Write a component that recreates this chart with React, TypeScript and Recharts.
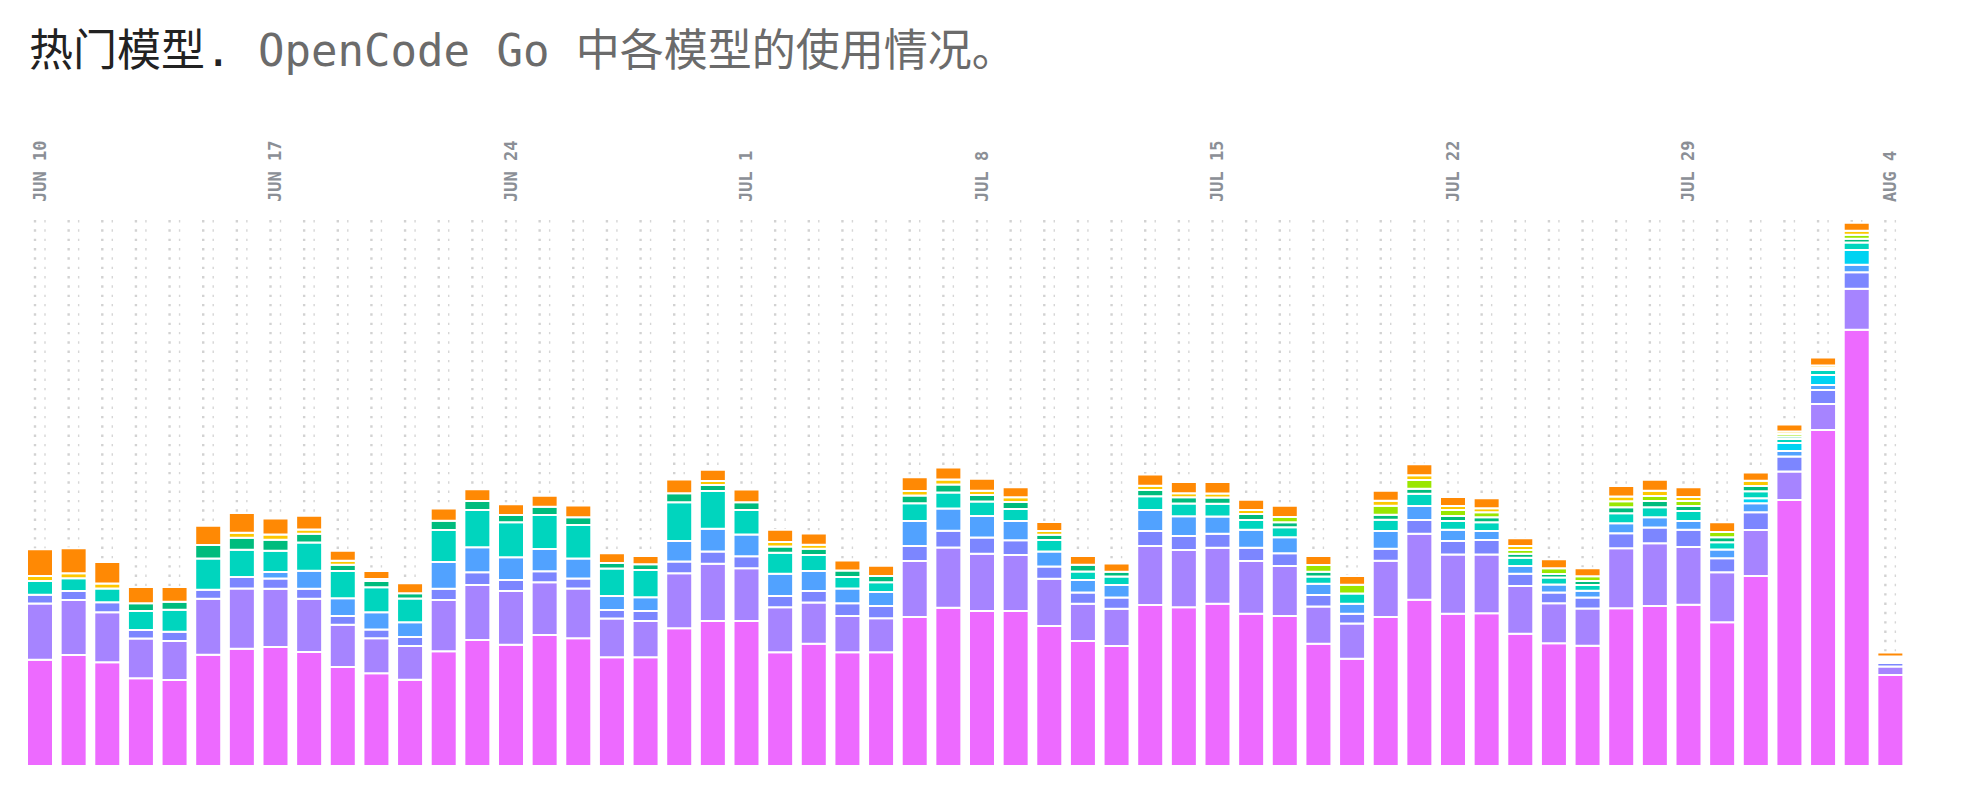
import { BarChart, Bar, XAxis, YAxis } from "recharts";

// one entry per day, JUN 10 .. AUG 4
const days = [
  "JUN 10", "JUN 11", "JUN 12", "JUN 13", "JUN 14", "JUN 15", "JUN 16",
  "JUN 17", "JUN 18", "JUN 19", "JUN 20", "JUN 21", "JUN 22", "JUN 23",
  "JUN 24", "JUN 25", "JUN 26", "JUN 27", "JUN 28", "JUN 29", "JUN 30",
  "JUL 1", "JUL 2", "JUL 3", "JUL 4", "JUL 5", "JUL 6", "JUL 7",
  "JUL 8", "JUL 9", "JUL 10", "JUL 11", "JUL 12", "JUL 13", "JUL 14",
  "JUL 15", "JUL 16", "JUL 17", "JUL 18", "JUL 19", "JUL 20", "JUL 21",
  "JUL 22", "JUL 23", "JUL 24", "JUL 25", "JUL 26", "JUL 27", "JUL 28",
  "JUL 29", "JUL 30", "JUL 31", "AUG 1", "AUG 2", "AUG 3", "AUG 4",
];

const tickDays = ["JUN 10", "JUN 17", "JUN 24", "JUL 1", "JUL 8", "JUL 15", "JUL 22", "JUL 29", "AUG 4"];

// usage per model, bottom of the stack first
const model1 = [
  106.3, 111, 103.7, 87.7, 86, 111.3, 117.3, 119, 114, 99, 92.7, 86.3, 114.7, 126,
  121.3, 131, 127.7, 108.7, 108.7, 137.7, 145, 145, 113.7, 122.3, 113.7, 113.7, 149, 158.3,
  155, 155, 140, 125, 120, 161, 158.7, 162.3, 152.3, 150, 122.3, 107.3, 149, 166.3,
  152.3, 152.7, 132.3, 122.7, 120.3, 157.7, 160, 161.3, 143.7, 190, 266, 336, 436.3, 91,
];
const model2 = [
  56.3, 55, 50, 39.7, 39, 56, 60.3, 58.3, 53.3, 42.3, 35, 33.7, 51.3, 55,
  53.7, 52.7, 49.7, 38.7, 36.3, 55, 57.3, 52.7, 45, 41.3, 36.3, 34, 56, 60.3,
  57.3, 56, 47.3, 37.3, 37.3, 59, 57.3, 56, 52.7, 50, 37.3, 35.3, 56.3, 66,
  59.3, 58.7, 47.7, 40, 37.3, 60, 62.7, 57.7, 50, 46, 28.5, 26, 41, 8.5,
];
const model3 = [
  8.7, 9, 10, 8.7, 9.3, 9, 11.3, 10.3, 10, 8.7, 8.7, 9, 11.3, 12.7,
  11, 11, 10, 8.7, 10, 11.7, 12.3, 12, 11.3, 11.3, 12.7, 12.3, 15, 16.7,
  16.3, 14.7, 12.3, 11.3, 11.3, 15, 14, 14, 13.3, 12.7, 11.3, 9.7, 12, 13.7,
  13.3, 14.7, 12.3, 10.7, 11, 15, 15.7, 17.3, 14, 17.7, 15, 14, 16.4, 3.5,
];
const model4 = [
  0, 0, 0, 0, 0, 0, 0, 6.3, 18, 17.7, 17.3, 14.7, 26.7, 25,
  22.7, 22.3, 20, 14, 13.7, 20.7, 22.7, 21.7, 22.3, 20, 14.7, 14, 25, 22.3,
  21.3, 19.3, 15, 12.3, 12.3, 21, 19.7, 17.3, 18, 16, 11.3, 10, 17.7, 14,
  11.3, 9, 7.7, 8, 6.7, 10, 10.3, 8.7, 8.7, 9, 5.5, 5, 7.5, 1.5,
];
const model5 = [
  0, 0, 0, 0, 0, 0, 0, 0, 0, 0, 0, 0, 0, 0,
  0, 0, 0, 0, 0, 0, 0, 0, 0, 0, 0, 0, 0, 0,
  0, 0, 0, 0, 0, 0, 0, 0, 0, 0, 0, 0, 0, 0,
  0, 0, 0, 0, 0, 0, 0, 0, 0, 5, 8, 10, 14.9, 1,
];
const model6 = [
  13.7, 12.7, 13.7, 19, 22, 31.3, 27.3, 21.3, 28.3, 27.3, 25, 23.7, 32, 37.3,
  35, 34, 33.7, 27.3, 27.3, 38.7, 37.7, 24.7, 21, 16, 11.7, 9.7, 17.7, 16,
  14.7, 12, 11.3, 8.7, 8.7, 13.7, 12.7, 12.7, 9.7, 10, 7.3, 10.3, 11.3, 12.3,
  8.7, 8.7, 8.3, 7, 5.7, 10, 10, 10, 7.3, 7, 4, 5, 7.4, 1.5,
];
const model7 = [
  0, 0, 0, 7.7, 8, 13.3, 12, 11, 8.7, 6.3, 6.3, 5.3, 9.3, 9,
  7.3, 8.3, 7.7, 5.7, 5.7, 9, 6, 7.7, 6.3, 6.3, 6.3, 6.3, 7.7, 8,
  6.3, 7, 5.3, 6.7, 4.7, 6.3, 6.3, 6.3, 6, 5, 4.7, 0, 5, 5,
  5, 5, 4, 3.7, 4, 6, 6.3, 5, 5, 5.3, 2.5, 2, 3.8, 1,
];
const model8 = [
  0, 0, 0, 0, 0, 0, 0, 0, 0, 0, 0, 0, 0, 0,
  0, 0, 0, 0, 0, 0, 0, 0, 0, 0, 0, 0, 0, 0,
  0, 0, 0, 0, 0, 0, 0, 0, 0, 5.3, 6.7, 8.7, 9, 8.7,
  6, 5, 3.7, 5.7, 4.7, 6, 5, 5, 5.3, 0, 2.5, 0, 4, 0.5,
];
const model9 = [
  5, 5, 5, 0, 0, 0, 5, 5.3, 4.3, 4, 2, 0, 0, 0,
  0, 0, 0, 0, 0, 0, 4, 0, 4.3, 4, 0, 0, 4.7, 5,
  4.3, 4.7, 3.7, 0, 0, 4.3, 4, 4, 4, 0, 0, 0, 5, 4.7,
  4, 4, 4, 0, 0, 4.7, 5.3, 4, 0, 5.3, 2.5, 2.5, 4, 1,
];
const model10 = [
  26.7, 25, 21.7, 16.3, 14.7, 19.3, 19.7, 16, 13.7, 10, 8, 10, 12.3, 11.7,
  10.7, 11, 11.7, 9.7, 8.3, 13.7, 11.3, 12.7, 12.3, 11.3, 10, 10.3, 13.7, 12,
  12, 10, 9, 8.7, 8.3, 11.3, 11.3, 11.3, 10.3, 11.3, 9, 8.7, 10, 11,
  9, 10, 7.7, 9, 8, 10.7, 11, 9.7, 9.7, 8.3, 7, 8, 8, 4,
];

const series = [
  { key: "model1", color: "#ed6aff", values: model1 },
  { key: "model2", color: "#a684ff", values: model2 },
  { key: "model3", color: "#7c86ff", values: model3 },
  { key: "model4", color: "#51a2ff", values: model4 },
  { key: "model5", color: "#00d3f2", values: model5 },
  { key: "model6", color: "#00d5be", values: model6 },
  { key: "model7", color: "#00bc7d", values: model7 },
  { key: "model8", color: "#9ae600", values: model8 },
  { key: "model9", color: "#fdc700", values: model9 },
  { key: "model10", color: "#ff8904", values: model10 },
];

const data = days.map((day, i) => {
  const row: Record<string, string | number> = { day };
  series.forEach((s) => {
    row[s.key] = s.values[i];
  });
  return row;
});

const MONO = "'DejaVu Sans Mono', 'Noto Sans CJK SC', monospace";

function DayTick(props: any) {
  const { x, y, payload } = props;
  if (!tickDays.includes(payload.value)) return <g />;
  return (
    <text
      x={x}
      y={y}
      dy="0.36em"
      transform={`rotate(-90 ${x} ${y})`}
      textAnchor="start"
      fill="#8b8f96"
      fontSize={17}
      fontWeight={700}
      fontFamily={MONO}
    >
      {payload.value}
    </text>
  );
}

// dotted columns behind every bar
function DotColumns(props: any) {
  const { x, y, width, height } = props;
  const cx = x + width / 2;
  return (
    <g>
      <line x1={cx - 5} x2={cx - 5} y1={y} y2={y + height} stroke="#d2d2d2" strokeWidth={2.4} strokeDasharray="2.4 6.93" />
      <line x1={cx + 5} x2={cx + 5} y1={y} y2={y + height} stroke="#d6d6d6" strokeWidth={1.4} strokeDasharray="2.4 6.93" />
    </g>
  );
}

export default function App() {
  return (
    <div style={{ position: "relative", width: 1963, height: 783 }}>
      <svg width={1100} height={90} style={{ position: "absolute", left: 0, top: 0 }}>
        <text x={21} y={58} fontSize={44} fontFamily={MONO} style={{ whiteSpace: "pre" }}>
          <tspan fill="#222222">热门模型.</tspan>
          <tspan fill="#6b6b6b">{" OpenCode Go 中各模型的使用情况。"}</tspan>
        </text>
      </svg>
      <div style={{ position: "absolute", left: 0, top: 0 }}>
        <BarChart
          width={1950}
          height={775}
          data={data}
          margin={{ top: 152, right: 51, bottom: 17, left: 15 }}
          barSize={26}
        >
          <XAxis
            dataKey="day"
            orientation="top"
            axisLine={false}
            tickLine={false}
            tickSize={0}
            tickMargin={18}
            interval={0}
            height={60}
            tick={DayTick}
          />
          <YAxis hide domain={[0, 546]} />
          {series.map((s, idx) => (
            <Bar
              key={s.key}
              dataKey={s.key}
              stackId="usage"
              fill={s.color}
              stroke="#ffffff"
              strokeWidth={2}
              background={idx === 0 ? DotColumns : undefined}
              isAnimationActive={false}
            />
          ))}
        </BarChart>
      </div>
      <div style={{ position: "absolute", left: 1956, top: -8, width: 2, height: 791, background: "#e4e4e4" }} />
    </div>
  );
}
